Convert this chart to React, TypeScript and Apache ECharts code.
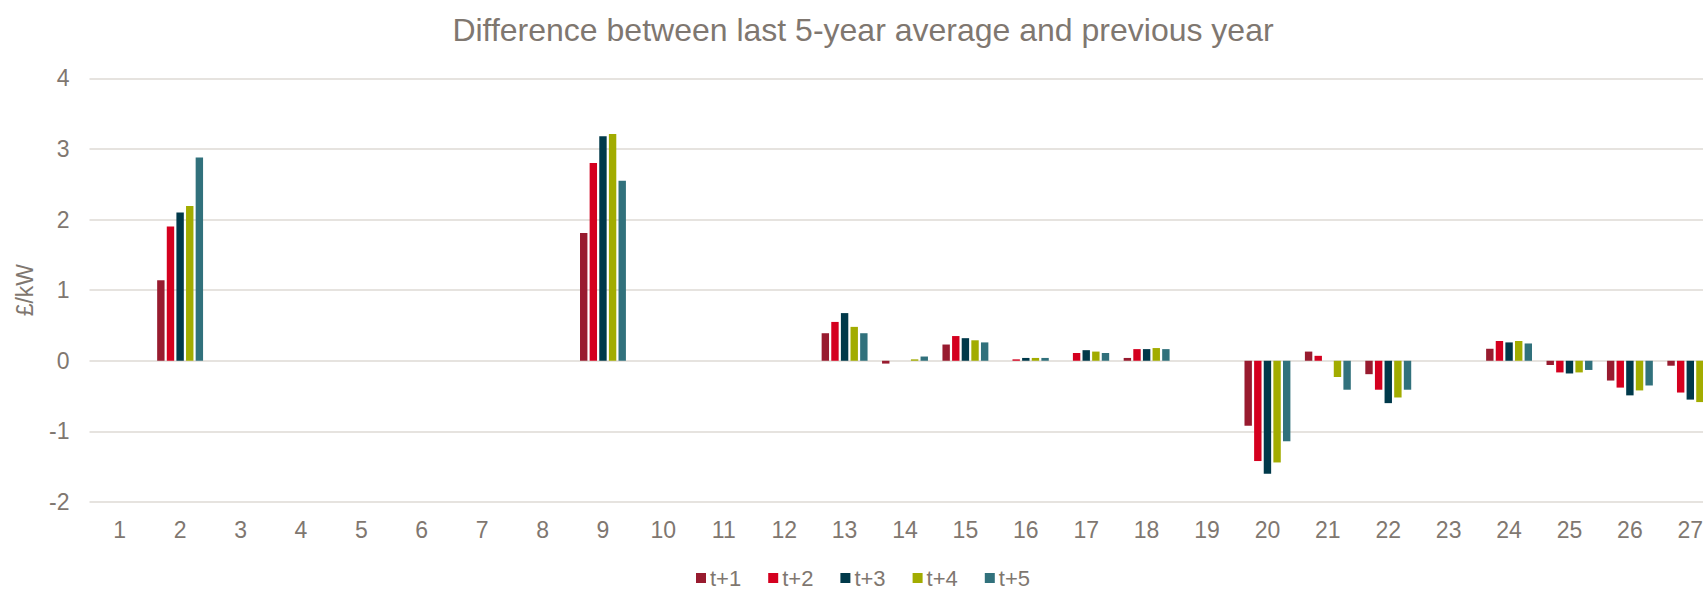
import React, { useEffect, useRef } from "react";
import * as echarts from "echarts";

const categories = Array.from({ length: 27 }, (_, i) => String(i + 1));

const seriesNames = ["t+1", "t+2", "t+3", "t+4", "t+5"];
const seriesColors = ["#981B2F", "#D4001F", "#00394A", "#A2AC00", "#31717C"];

const t1 = [null, 1.14, null, null, null, null, null, null, 1.81, null, null, null, 0.39, -0.04, 0.23, 0, 0, 0.04, null, -0.92, 0.13, -0.19, null, 0.17, -0.06, -0.28, -0.07];
const t2 = [null, 1.9, null, null, null, null, null, null, 2.8, null, null, null, 0.55, 0, 0.35, 0.02, 0.11, 0.165, null, -1.42, 0.07, -0.41, null, 0.28, -0.165, -0.38, -0.45];
const t3 = [null, 2.1, null, null, null, null, null, null, 3.18, null, null, null, 0.675, 0, 0.32, 0.04, 0.15, 0.165, null, -1.6, 0, -0.6, null, 0.26, -0.18, -0.49, -0.55];
const t4 = [null, 2.19, null, null, null, null, null, null, 3.21, null, null, null, 0.48, 0.02, 0.29, 0.04, 0.13, 0.18, null, -1.44, -0.23, -0.52, null, 0.28, -0.165, -0.42, -0.585];
const t5 = [null, 2.88, null, null, null, null, null, null, 2.55, null, null, null, 0.39, 0.06, 0.26, 0.04, 0.11, 0.165, null, -1.14, -0.41, -0.41, null, 0.245, -0.13, -0.35, -0.45];

const seriesData = [t1, t2, t3, t4, t5];

const TEXT = "#7F7770";
const FONT = "'Liberation Sans', Arial, sans-serif";

export default function App() {
  const ref = useRef<HTMLDivElement>(null);

  useEffect(() => {
    if (!ref.current) return;
    const chart = echarts.init(ref.current, undefined, { renderer: "svg" });
    chart.setOption({
      animation: false,
      backgroundColor: "#ffffff",
      textStyle: { fontFamily: FONT },
      title: {
        text: "Difference between last 5-year average and previous year",
        left: "center",
        top: 9,
        textStyle: { color: TEXT, fontSize: 32, fontWeight: "normal", fontFamily: FONT },
      },
      legend: {
        data: seriesNames,
        left: "center",
        top: 567,
        padding: 0,
        icon: "rect",
        itemWidth: 10,
        itemHeight: 10,
        itemGap: 27,
        textStyle: { color: TEXT, fontSize: 22, fontFamily: FONT, padding: [0, 0, 0, -1] },
      },
      grid: { left: 89.5, right: 5.5, top: 78.3, bottom: 87, containLabel: false },
      xAxis: {
        type: "category",
        data: categories,
        position: "bottom",
        axisLine: { show: false },
        axisTick: { show: false },
        axisLabel: { color: TEXT, fontSize: 23, margin: 16, fontFamily: FONT, interval: 0 },
      },
      yAxis: {
        type: "value",
        min: -2,
        max: 4,
        interval: 1,
        name: "£/kW",
        nameLocation: "middle",
        nameGap: 53,
        nameTextStyle: { color: TEXT, fontSize: 23, fontFamily: FONT },
        axisLine: { show: false },
        axisTick: { show: false },
        axisLabel: { color: TEXT, fontSize: 23, margin: 20, fontFamily: FONT },
        splitLine: { lineStyle: { color: "#DEDAD5", width: 1.5 } },
      },
      series: seriesNames.map((name, i) => ({
        name,
        type: "bar",
        data: seriesData[i],
        itemStyle: { color: seriesColors[i] },
        barGap: "30%",
        barCategoryGap: "24%",
      })),
    });
    return () => chart.dispose();
  }, []);

  return (
    <div
      style={{
        position: "absolute",
        left: 0,
        top: 0,
        width: 1703,
        height: 589,
        overflow: "hidden",
        background: "#fff",
      }}
    >
      <div ref={ref} style={{ width: 1726, height: 589 }} />
    </div>
  );
}
